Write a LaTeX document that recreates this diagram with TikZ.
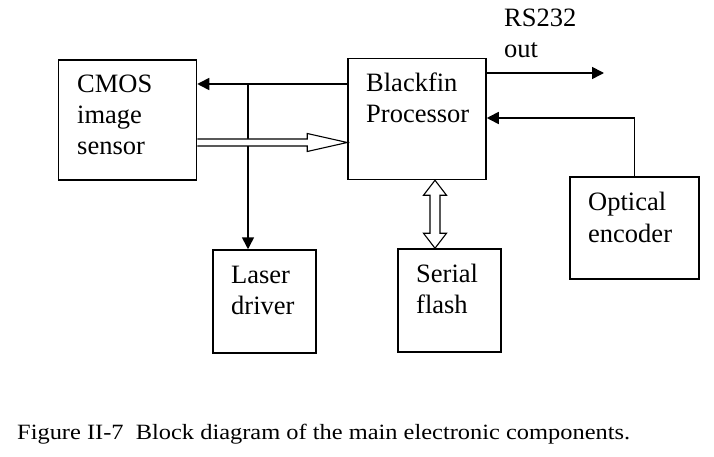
\documentclass[tikz,border=0pt]{standalone}
\usepackage{fontspec}
\setmainfont{Liberation Serif}
\usetikzlibrary{arrows.meta,calc}
\begin{document}
\begin{tikzpicture}[x=1pt,y=-1pt,
  blk/.style={draw,line width=1.5pt,inner sep=0pt,minimum width=#1},
  lbl/.style={anchor=base west,inner sep=0pt,font=\fontsize{26.5}{31}\selectfont},
  captxt/.style={anchor=base west,inner sep=0pt,font=\fontsize{21.8}{26}\selectfont},
  conn/.style={line width=1.6pt,-{Triangle[length=12pt,width=12pt]}},
  hollow/.style={line width=1.1pt,fill=white,line join=miter}]
\useasboundingbox (0,0) rectangle (714,457);
% boxes
\node[blk=138pt,minimum height=120pt] (cmos) at (127.5,120) {};
\node[blk=138pt,minimum height=121pt] (bf) at (417,119) {};
\node[blk=103pt,minimum height=103pt] (laser) at (264.5,301.5) {};
\node[blk=103pt,minimum height=103pt] (flash) at (449.5,300.5) {};
\node[blk=129pt,minimum height=102pt] (opt) at (634.5,228) {};
% labels
\node[lbl] (c1) at (77,93) {CMOS};
\node[lbl] (c2) at (77,124) {image};
\node[lbl] (c3) at (77,155) {sensor};
\node[lbl] (b1) at (366,92) {Blackfin};
\node[lbl] (b2) at (366,123) {Processor};
\node[lbl] (l1) at (231,283) {Laser};
\node[lbl] (l2) at (231,314) {driver};
\node[lbl] (s1) at (416,282) {Serial};
\node[lbl] (s2) at (416,313) {flash};
\node[lbl] (o1) at (588,210) {Optical};
\node[lbl] (o2) at (588,242) {encoder};
\node[lbl] (r1) at (504,27) {RS232};
\node[lbl] (r2) at (504,58) {out};
\node[captxt] (caption) at (17,439) {\scalebox{1.12}[1]{Figure II-7\ \ Block diagram of the main electronic components.}};
% connectors
\coordinate (j1) at (248,84);
\draw[conn] (bf.west |- j1) -- (cmos.east |- j1);
\draw[conn] (j1) -- (j1 |- laser.north);
\coordinate (rsend) at (604,73);
\draw[conn] (bf.east |- rsend) -- (rsend);
\coordinate (oc) at (opt.north |- 0,118);
\draw[conn] (opt.north) -- (oc) -- (bf.east |- oc);
% hollow arrow CMOS -> Blackfin
\coordinate (h) at (cmos.east |- 0,142.5);
\coordinate (ht) at (bf.west |- h);
\draw[hollow] ($(h)+(0,-3.5)$) -- ($(ht)+(-40,-3.5)$) -- ($(ht)+(-40,-9)$) -- (ht)
  -- ($(ht)+(-40,9)$) -- ($(ht)+(-40,3.5)$) -- ($(h)+(0,3.5)$);
% double hollow arrow Blackfin <-> flash
\coordinate (ft) at (435,0);
\coordinate (fa) at (bf.south -| ft);
\coordinate (fb) at (flash.north -| ft);
\draw[hollow] (fa) -- ($(fa)+(11.5,15)$) -- ($(fa)+(5,15)$) -- ($(fb)+(5,-15)$) -- ($(fb)+(11.5,-15)$)
  -- (fb) -- ($(fb)+(-11.5,-15)$) -- ($(fb)+(-5,-15)$) -- ($(fa)+(-5,15)$) -- ($(fa)+(-11.5,15)$) -- cycle;
\end{tikzpicture}
\end{document}
